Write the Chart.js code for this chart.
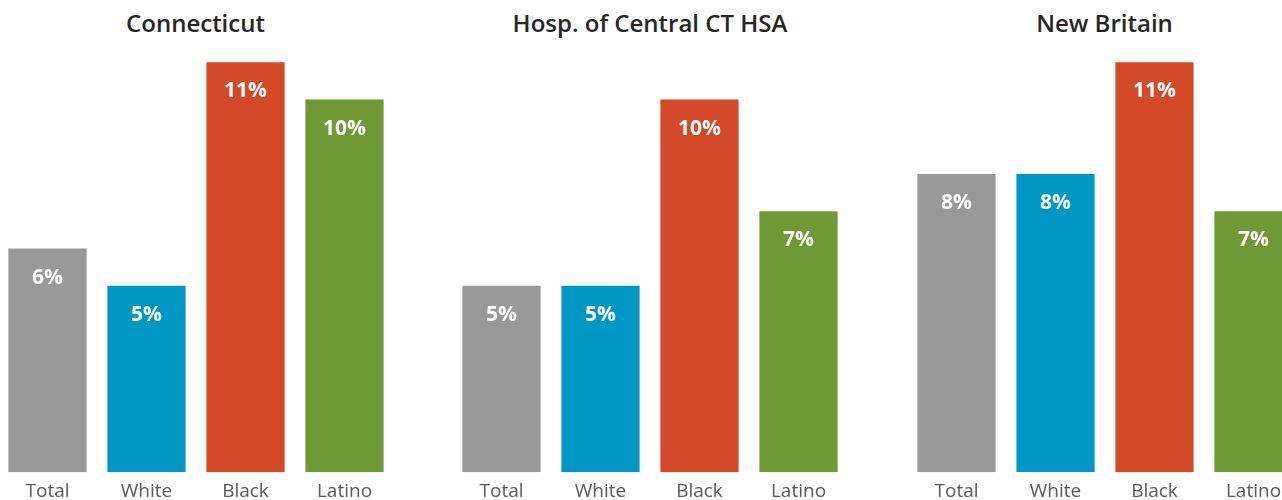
<!DOCTYPE html>
<html>
<head>
<meta charset="utf-8">
<script src="https://cdn.jsdelivr.net/npm/chart.js@4.4.1/dist/chart.umd.min.js"></script>
<style>
  html, body { margin: 0; padding: 0; background: #fff; overflow: hidden; }
  body { width: 1282px; height: 500px; position: relative; overflow: hidden; }
  .panel { position: absolute; top: 0; width: 396px; height: 511px; }
  .panel canvas { position: absolute; left: 0; top: 0; }
  .title { position: absolute; top: 7px; left: 0; width: 396px; text-align: center;
           font-family: "Open Sans", sans-serif; font-weight: 600; font-size: 24px;
           color: #262626; line-height: 32px; white-space: nowrap; }
</style>
</head>
<body>
<div class="panel" style="left:-2.5px"><div class="title" id="t0"></div><canvas id="c0" width="396" height="511"></canvas></div>
<div class="panel" style="left:452px"><div class="title" id="t1"></div><canvas id="c1" width="396" height="511"></canvas></div>
<div class="panel" style="left:906.5px"><div class="title" id="t2"></div><canvas id="c2" width="396" height="511"></canvas></div>
<script>
const panelTitles = ["Connecticut", "Hosp. of Central CT HSA", "New Britain"];
const categories = ["Total", "White", "Black", "Latino"];
const connecticutValues = [6, 5, 11, 10];
const hospitalValues = [5, 5, 10, 7];
const newBritainValues = [8, 8, 11, 7];
const barColors = ["#999999", "#0097c4", "#d34a29", "#6e9935"];

const panelValues = [connecticutValues, hospitalValues, newBritainValues];

const valueLabelPlugin = {
  id: 'valueLabels',
  afterDatasetsDraw(chart) {
    const ctx = chart.ctx;
    ctx.save();
    ctx.fillStyle = '#ffffff';
    ctx.font = 'bold 21px "Open Sans", sans-serif';
    ctx.textAlign = 'center';
    ctx.textBaseline = 'middle';
    const meta = chart.getDatasetMeta(0);
    const data = chart.data.datasets[0].data;
    meta.data.forEach((bar, i) => {
      ctx.fillText(data[i] + '%', bar.x, bar.y + 29);
    });
    ctx.restore();
  }
};

panelValues.forEach((vals, idx) => {
  document.getElementById('t' + idx).textContent = panelTitles[idx];
  new Chart(document.getElementById('c' + idx), {
    type: 'bar',
    data: {
      labels: categories,
      datasets: [{
        data: vals,
        backgroundColor: barColors,
        borderWidth: 0,
        barPercentage: 0.79,
        categoryPercentage: 1.0
      }]
    },
    options: {
      responsive: false,
      animation: false,
      events: [],
      layout: { padding: { top: 25, left: 0, right: 0, bottom: 0 } },
      plugins: { legend: { display: false }, tooltip: { enabled: false }, title: { display: false } },
      scales: {
        x: {
          grid: { display: false, drawTicks: false },
          border: { display: false },
          ticks: { color: '#595959', font: { family: '"Open Sans", sans-serif', size: 19 }, padding: 8 }
        },
        y: {
          display: false,
          min: 0,
          max: 12
        }
      }
    },
    plugins: [valueLabelPlugin]
  });
});
</script>
</body>
</html>
